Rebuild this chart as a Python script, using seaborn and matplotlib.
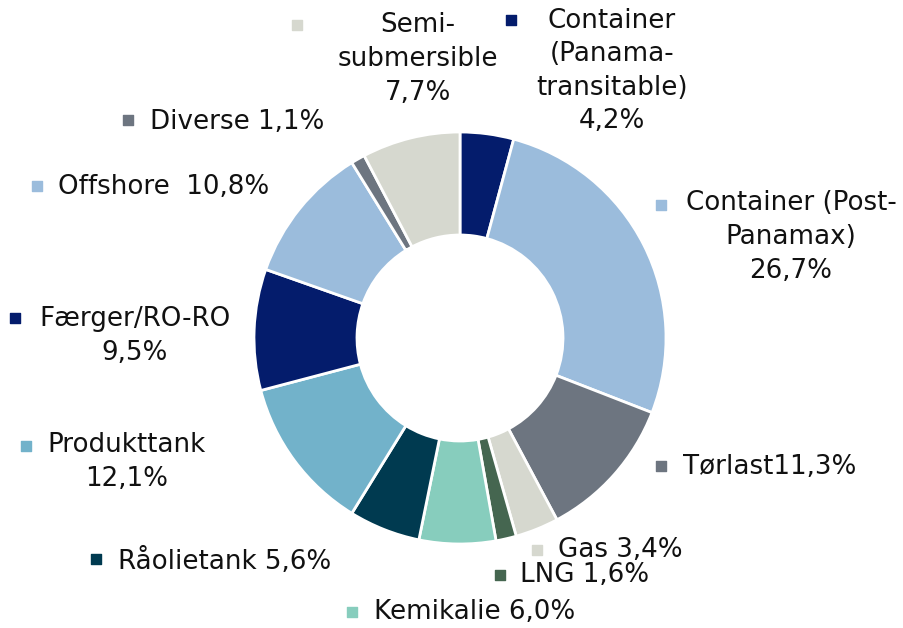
import matplotlib
matplotlib.use("Agg")
import matplotlib.pyplot as plt
import seaborn as sns

# Fleet composition (share of order book), clockwise from top
segments = ["Container (Panama-transitable)", "Container (Post-Panamax)", "Tørlast", "Gas", "LNG",
            "Kemikalie", "Råolietank", "Produkttank", "Færger/RO-RO", "Offshore", "Diverse",
            "Semi-submersible"]
shares = [4.2, 26.7, 11.3, 3.4, 1.6, 6.0, 5.6, 12.1, 9.5, 10.8, 1.1, 7.7]
label_names = ["Container\n(Panama-\ntransitable)\n", "Container (Post-\nPanamax)\n", "Tørlast", "Gas ",
               "LNG ", "Kemikalie ", "Råolietank ", "Produkttank\n", "Færger/RO-RO\n", "Offshore  ",
               "Diverse ", "Semi-\nsubmersible\n"]
colors = ["#041c6c", "#9bbcdc", "#6d7580", "#d6d8cf", "#456650", "#87cdbd",
          "#003a50", "#72b2ca", "#041c6c", "#9bbcdc", "#6d7580", "#d6d8cf"]

sns.set_theme(style="white")
plt.rcParams["font.family"] = ["DejaVu Sans"]

fig = plt.figure(figsize=(9.04, 6.28), dpi=100)
ax = fig.add_axes([0, 0, 1, 1])

ax.pie(shares, colors=sns.color_palette(colors), startangle=90, counterclock=False,
       center=(460, 290), radius=206,
       wedgeprops=dict(width=103, edgecolor="white", linewidth=2))

ax.set_xlim(0, 904)
ax.set_ylim(0, 628)
ax.set_aspect("equal")
ax.axis("off")

# label layout: (square x, square y, text x, text y, ha)
layout = [
    (511, 608, 612, 557, "center"),
    (661, 423, 791, 391, "center"),
    (661, 162, 683, 161, "left"),
    (537, 78, 558, 78, "left"),
    (500, 53, 520, 53, "left"),
    (352, 16, 374, 16, "left"),
    (96, 69, 118, 67, "left"),
    (26, 182, 127, 166, "center"),
    (15, 310, 135, 292, "center"),
    (37, 442, 58, 441, "left"),
    (128, 508, 150, 506, "left"),
    (297, 603, 418, 569, "center"),
]

fs = 18.8
for name, val, col, (sx, sy, tx, ty, ha) in zip(label_names, shares, colors, layout):
    txt = name + f"{val:.1f}".replace(".", ",") + "%"
    ax.scatter([sx], [sy], marker="s", s=60, color=col, zorder=3)
    ax.text(tx, ty, txt, ha=ha, va="center", multialignment="center",
            fontsize=fs, color="#111111", linespacing=1.38)

fig.savefig("out.png", dpi=100)
